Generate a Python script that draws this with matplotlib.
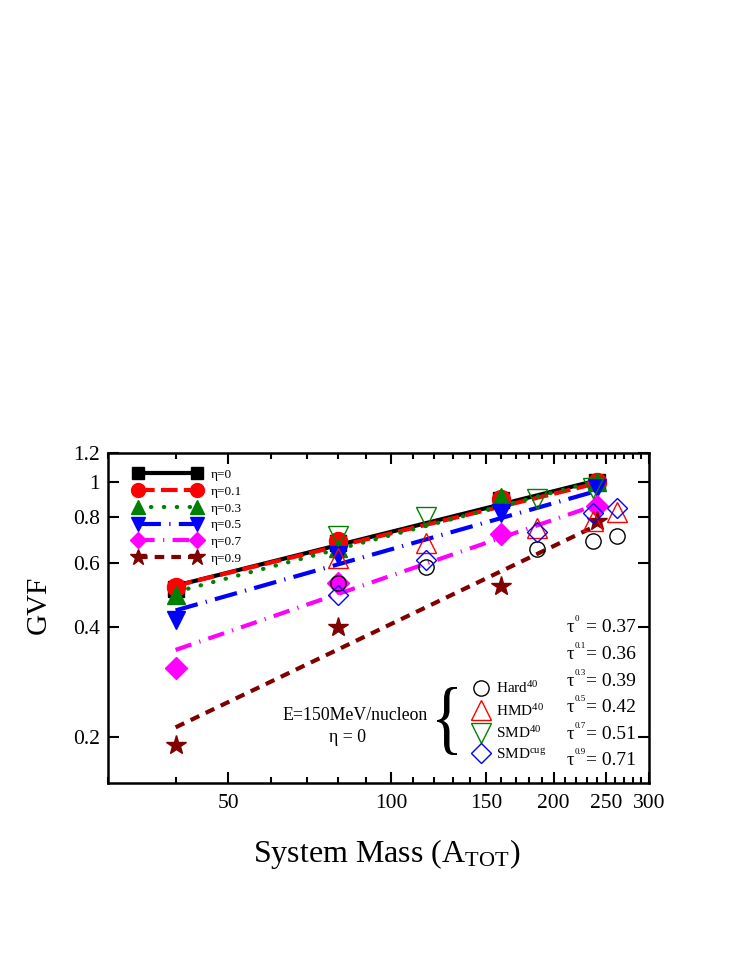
import numpy as np
import matplotlib
matplotlib.use("Agg")
from matplotlib import pyplot as plt
from matplotlib.lines import Line2D
from matplotlib.ticker import FixedLocator, FixedFormatter, NullLocator
from matplotlib.textpath import TextPath
from matplotlib.patches import PathPatch
from matplotlib.font_manager import FontProperties
from matplotlib.transforms import Affine2D

plt.rcParams['font.family'] = ['Liberation Serif', 'DejaVu Serif']
plt.rcParams['mathtext.fontset'] = 'custom'
plt.rcParams['mathtext.rm'] = 'Liberation Serif'
plt.rcParams['mathtext.it'] = 'Liberation Serif'
plt.rcParams['mathtext.bf'] = 'Liberation Serif:bold'

# filled symbols: different eta values
x_eta = [40, 80, 160, 240]
eta_labels = ["η=0", "η=0.1", "η=0.3", "η=0.5", "η=0.7", "η=0.9"]
gvf_eta = [
    [0.51, 0.68, 0.89, 1.00],
    [0.515, 0.69, 0.90, 1.00],
    [0.49, 0.66, 0.91, 1.00],
    [0.42, 0.63, 0.82, 0.96],
    [0.31, 0.53, 0.72, 0.86],
    [0.19, 0.40, 0.52, 0.78],
]
# power-law fits  GVF = a * (A/40)^tau
fit_a40 = [0.52, 0.52, 0.50, 0.445, 0.347, 0.213]
tau = [0.37, 0.36, 0.39, 0.42, 0.51, 0.71]
tau_labels = ["0", "0.1", "0.3", "0.5", "0.7", "0.9"]

# open symbols: E=150MeV/nucleon, eta=0
x_hard = [80, 116, 186, 236, 262]
gvf_hard = [0.53, 0.585, 0.655, 0.69, 0.71]
gvf_hmd = [0.62, 0.68, 0.75, 0.78, 0.83]
x_smd = [80, 116, 186, 236]
gvf_smd = [0.71, 0.80, 0.90, 0.96]
gvf_cug = [0.49, 0.61, 0.73, 0.82, 0.85]

colors = ["black", "red", "green", "blue", "magenta", "#800000"]
markers = ["s", "o", "^", "v", "D", "*"]
msizes = [12, 13, 13, 13, 11, 15]
dashes = [None, (4, 1.5), (0.1, 3.0), (5.5, 2, 0.3, 2), (4, 2, 0.3, 2), (2.3, 1.7)]

fig = plt.figure(figsize=(7.52, 9.73), dpi=100)
ax = fig.add_axes([108 / 752, 1 - 783 / 973, 541 / 752, 330 / 973])
ax.set_xscale("log")
ax.set_yscale("log")

xfit = np.array([40, 240])
handles = []
for i in range(6):
    yfit = fit_a40[i] * (xfit / 40.0) ** tau[i]
    ln, = ax.plot(xfit, yfit, color=colors[i], lw=3, zorder=2)
    h = Line2D([], [], color=colors[i], lw=3, marker=markers[i], ms=msizes[i] - 3)
    if dashes[i] is not None:
        ln.set_dashes(dashes[i])
        h.set_dashes(dashes[i])
        if i == 2:
            ln.set_dash_capstyle("round")
            h.set_dash_capstyle("round")
    ax.plot(x_eta, gvf_eta[i], ls="none", marker=markers[i], ms=msizes[i],
            color=colors[i], mec=colors[i], zorder=3)
    handles.append(h)

h1, = ax.plot(x_hard, gvf_hard, ls="none", marker="o", ms=11, mfc="none", mec="black", mew=1, zorder=4)
h2, = ax.plot(x_hard, gvf_hmd, ls="none", marker="^", ms=14, mfc="none", mec="red", mew=1, zorder=4)
h3, = ax.plot(x_smd, gvf_smd, ls="none", marker="v", ms=14, mfc="none", mec="green", mew=1, zorder=4)
h4, = ax.plot(x_hard, gvf_cug, ls="none", marker="D", ms=10, mfc="none", mec="blue", mew=1, zorder=4)

ax.set_xlim(30, 300)
ax.set_ylim(0.15, 1.2)

xmaj = [50, 100, 150, 200, 250, 300]
ax.xaxis.set_major_locator(FixedLocator(xmaj))
ax.xaxis.set_major_formatter(FixedFormatter([str(v) for v in xmaj]))
ax.xaxis.set_minor_locator(FixedLocator([v for v in range(30, 300, 10) if v not in xmaj]))
ax.xaxis.set_minor_formatter(FixedFormatter([]))
ymaj = [0.2, 0.4, 0.6, 0.8, 1.0, 1.2]
ax.yaxis.set_major_locator(FixedLocator(ymaj))
ax.yaxis.set_major_formatter(FixedFormatter(["0.2", "0.4", "0.6", "0.8", "1", "1.2"]))
ax.yaxis.set_minor_locator(NullLocator())

ax.tick_params(which="both", direction="in", top=True, right=True, width=1.5, labelsize=15.5)
ax.tick_params(which="major", length=8)
ax.tick_params(which="minor", length=4)
ax.tick_params(axis="x", pad=8)
ax.tick_params(axis="y", pad=6)
for s in ax.spines.values():
    s.set_linewidth(1.8)

ax.set_ylabel("GVF", fontsize=21, va="center")
ax.yaxis.set_label_coords(-0.128, 0.54)
ax.set_xlabel("System Mass (A$_{\\rm TOT}$)", fontsize=23, va="top")
ax.xaxis.set_label_coords(0.516, -0.165)

leg1 = ax.legend(handles, eta_labels, loc="upper left", bbox_to_anchor=(0.048, 0.952),
                 numpoints=2, frameon=False, fontsize=9.5, handlelength=5.1,
                 handletextpad=0.75, labelspacing=0.34, borderpad=0, borderaxespad=0)
ax.add_artist(leg1)
ax.legend([h1, h2, h3, h4], ["Hard$^{40}$", "HMD$^{40}$", "SMD$^{40}$", "SMD$^{cug}$"],
          loc="upper left", bbox_to_anchor=(0.675, 0.311), numpoints=1, frameon=False,
          fontsize=11, handlelength=1.0, handletextpad=0.5, labelspacing=0.42,
          borderpad=0, borderaxespad=0)

ax.text(0.457, 0.206, "E=150MeV/nucleon", transform=ax.transAxes, fontsize=12.8,
        ha="center", va="center")
ax.text(0.442, 0.139, "η = 0", transform=ax.transAxes, fontsize=12.8,
        ha="center", va="center")

# thin tall brace
tp = TextPath((0, 0), "{", size=1, prop=FontProperties(family="Liberation Serif"))
ext = tp.get_extents()
bw, bh = 20 / 752, 68 / 973
brace_tr = (Affine2D().translate(-ext.x0, -ext.y0)
            .scale(bw / ext.width, bh / ext.height)
            .translate(437 / 752, 1 - 755 / 973))
fig.add_artist(PathPatch(tp, transform=brace_tr + fig.transFigure,
                         facecolor="black", edgecolor="none"))

for i in range(6):
    yy = 0.4697 - i * 0.0806
    ax.text(0.848, yy, "τ", transform=ax.transAxes, fontsize=13.5, ha="left", va="center")
    ax.text(0.8625, yy + 0.026, tau_labels[i], transform=ax.transAxes, fontsize=6.5,
            ha="left", va="center")
    ax.text(0.8835, yy, "= %.2f" % tau[i], transform=ax.transAxes,
            fontsize=14, ha="left", va="center")

fig.savefig("out.png", dpi=100)
